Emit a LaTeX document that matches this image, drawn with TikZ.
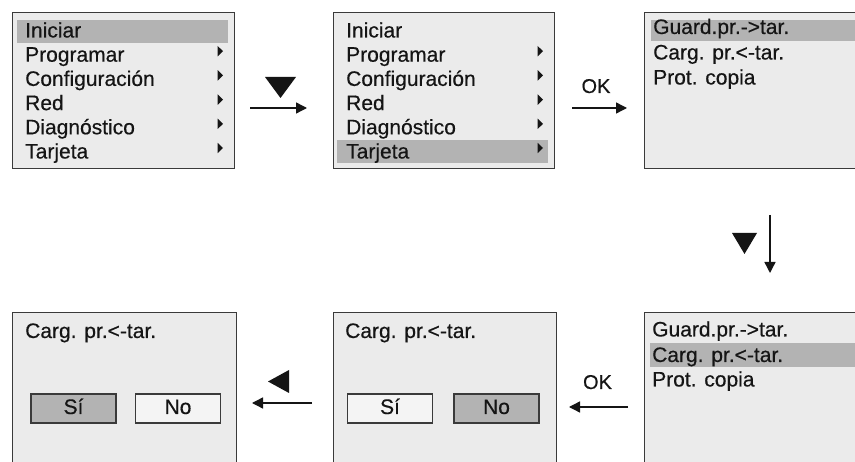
\documentclass[tikz,border=0pt]{standalone}
\usepackage{fontspec}
\setmainfont{Liberation Sans}
\newfontfamily\lcdfont[FakeBold=0.4]{Liberation Sans}
\usetikzlibrary{arrows.meta}
\definecolor{scr}{HTML}{EBEBEB}
\definecolor{hil}{HTML}{B3B3B3}
\definecolor{edgec}{HTML}{3A3A3A}
\definecolor{btn}{HTML}{F4F4F4}
\definecolor{ink}{HTML}{151515}
\tikzset{
  screen/.style={draw=edgec, line width=1.4pt, fill=scr, anchor=north west, inner sep=0pt},
  hl/.style={fill=hil, draw=none, anchor=north west, inner sep=0pt},
  item/.style={anchor=base west, inner sep=0pt, text=ink, font=\lcdfont\fontsize{21}{24}\selectfont},
  keylbl/.style={anchor=base, inner sep=0pt, text=ink, font=\lcdfont\fontsize{20}{22}\selectfont},
  flow/.style={-{Triangle[length=11pt,width=11pt]}, line width=1.4pt, draw=ink},
  btnbox/.style={draw=edgec, line width=1.2pt, minimum width=85pt, minimum height=29pt,
    inner sep=0pt, text height=15pt, text depth=4pt, text=ink, font=\lcdfont\fontsize{21}{24}\selectfont},
  subm/.pic={\fill[ink] (-0.3,-5.2) -- (5,0) -- (-0.3,5.2) -- cycle;}
}
\begin{document}
\begin{tikzpicture}[x=1pt,y=-1pt]
\useasboundingbox (0,0) rectangle (855,462);
\clip (0,0) rectangle (855,462);
\fill[white] (0,0) rectangle (855,462);

% ---------- Screen 1 ----------
\node[screen, minimum width=222pt, minimum height=156pt] (s1) at (12,12) {};
\node[hl, minimum width=211pt, minimum height=23pt] (h1) at (17,20) {};
\node[item] (s1a) at (25,37.5) {Iniciar};
\node[item] (s1b) at (25,61.7) {Programar};
\node[item] (s1c) at (25,85.9) {Configuración};
\node[item] (s1d) at (25,110.1) {Red};
\node[item] (s1e) at (25,134.3) {Diagnóstico};
\node[item] (s1f) at (25,158.5) {Tarjeta};
\foreach \yy in {51.2,75.4,99.6,123.8,148} { \pic at (218,\yy) {subm}; }

% ---------- Screen 2 ----------
\node[screen, minimum width=221pt, minimum height=156pt] (s2) at (333,12) {};
\node[hl, minimum width=211pt, minimum height=23pt] (h2) at (337,140) {};
\node[item] (s2a) at (346,37.5) {Iniciar};
\node[item] (s2b) at (346,61.7) {Programar};
\node[item] (s2c) at (346,85.9) {Configuración};
\node[item] (s2d) at (346,110.1) {Red};
\node[item] (s2e) at (346,134.3) {Diagnóstico};
\node[item] (s2f) at (346,158.5) {Tarjeta};
\foreach \yy in {51.2,75.4,99.6,123.8,148} { \pic at (538,\yy) {subm}; }

% ---------- Screen 3 ----------
\node[screen, minimum width=240pt, minimum height=156pt] (s3) at (644,12) {};
\node[hl, minimum width=230pt, minimum height=21pt] (h3) at (651,19.5) {};
\node[item] (s3a) at (653,34) {Guard.pr.->tar.};
\node[item] (s3b) at (653,59.5) {Carg. pr.<-tar.};
\node[item] (s3c) at (653,84.5) {Prot. copia};

% ---------- Screen 4 ----------
\node[screen, minimum width=240pt, minimum height=180pt] (s4) at (644,312) {};
\node[hl, minimum width=230pt, minimum height=24pt] (h4) at (650,343) {};
\node[item] (s4a) at (652,336.5) {Guard.pr.->tar.};
\node[item] (s4b) at (652,362) {Carg. pr.<-tar.};
\node[item] (s4c) at (652,386.5) {Prot. copia};

% ---------- Screen 5 ----------
\node[screen, minimum width=223pt, minimum height=180pt] (s5) at (333,312) {};
\node[item] (s5a) at (345,338) {Carg. pr.<-tar.};
\node[btnbox, fill=btn] (s5yes) at (390,408.5) {Sí};
\node[btnbox, fill=hil] (s5no) at (496.5,408.5) {No};

% ---------- Screen 6 ----------
\node[screen, minimum width=224pt, minimum height=180pt] (s6) at (12,312) {};
\node[item] (s6a) at (25,338) {Carg. pr.<-tar.};
\node[btnbox, fill=hil] (s6yes) at (73.5,408.5) {Sí};
\node[btnbox, fill=btn] (s6no) at (178,408.5) {No};

% ---------- Connectors ----------
\coordinate (a1s) at (250,108); \coordinate (a1e) at (307,108);
\coordinate (a2s) at (572,108); \coordinate (a2e) at (627,108);
\coordinate (a3s) at (770,215); \coordinate (a3e) at (770,273);
\coordinate (a4s) at (628,407); \coordinate (a4e) at (569,407);
\coordinate (a5s) at (312,403); \coordinate (a5e) at (252,403);
\draw[flow] (a1s) -- (a1e);
\draw[flow] (a2s) -- (a2e);
\draw[flow] (a3s) -- (a3e);
\draw[flow] (a4s) -- (a4e);
\draw[flow] (a5s) -- (a5e);

% key symbols and labels
\fill[ink] (265,77) -- (296,77) -- (280.5,98) -- cycle;
\fill[ink] (732,233) -- (757,233) -- (744.5,254) -- cycle;
\fill[ink] (268,381.5) -- (289,370) -- (289,393) -- cycle;
\node[keylbl] (ok1) at (596,93) {OK};
\node[keylbl] (ok2) at (597.5,389) {OK};
\end{tikzpicture}
\end{document}
